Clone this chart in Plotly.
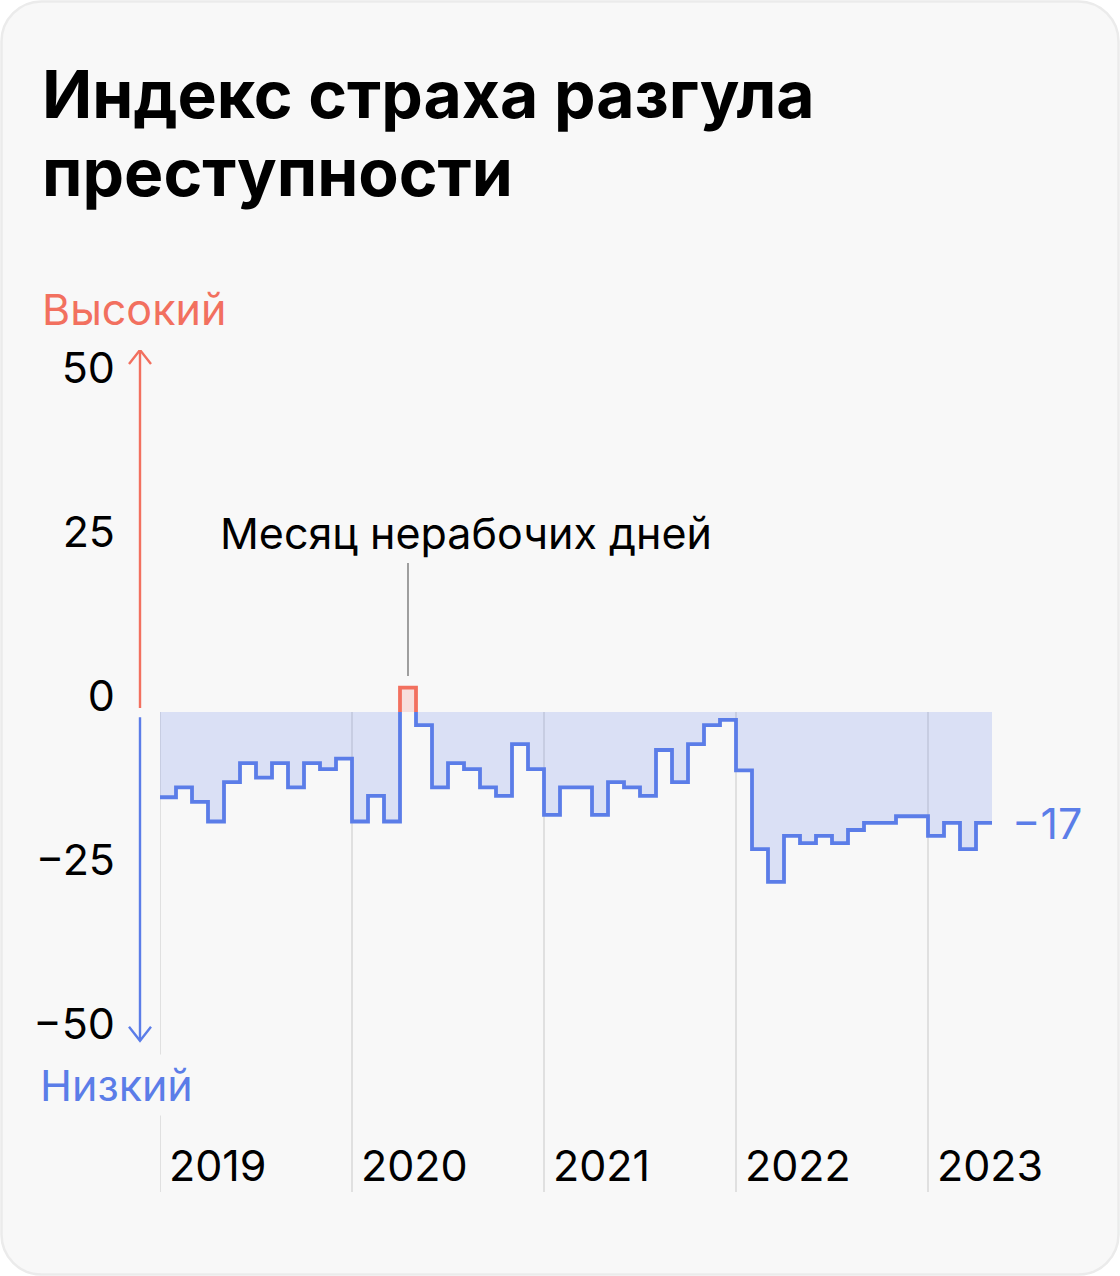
import plotly.graph_objects as go

# ---------------- data ----------------
YEARS = [2019, 2020, 2021, 2022, 2023]
VALUES_2019 = [-13.0, -11.5, -13.7, -16.7, -10.7, -7.8, -10.0, -7.8, -11.5, -7.8, -8.7, -7.1]
VALUES_2020 = [-16.7, -12.8, -16.7, 3.7, -2.0, -11.5, -7.8, -8.7, -11.5, -12.8, -4.9, -8.7]
VALUES_2021 = [-15.7, -11.5, -11.5, -15.7, -10.7, -11.5, -12.8, -5.8, -10.7, -4.9, -2.0, -1.2]
VALUES_2022 = [-8.9, -20.9, -25.9, -18.9, -20.0, -18.9, -20.0, -18.0, -16.9, -16.9, -15.9, -15.9]
VALUES_2023 = [-18.9, -16.9, -20.9, -16.9]
VALUES = VALUES_2019 + VALUES_2020 + VALUES_2021 + VALUES_2022 + VALUES_2023
Y_TICKS = [50, 25, 0, -25, -50]
HIGHLIGHT_TEXT = "Месяц нерабочих дней"
TITLE_LINES = ["Индекс страха разгула", "преступности"]

# ---------------- style ----------------
W, H = 1120, 1276
ML, MR, MT, MB = 160, 128, 350, 84
PW, PH = W - ML - MR, H - MT - MB
Y_MAX, Y_MIN = 55.2, -73.2
BLUE = "#5b7de8"
RED = "#f2705f"
BLUE_FILL = "rgba(91,123,232,0.19)"
RED_FILL = "rgba(242,112,95,0.18)"
CARD = "#f8f8f8"
GRID = "#dadada"
FONT = "Inter"
FS = 43
LW = 3.8


def px_x(px):
    return (px - ML) / PW


def px_y(py):
    return 1 - (py - MT) / PH


n = len(VALUES)

# fill polyline (negative part clipped at zero)
fx, fy = [], []
for i, v in enumerate(VALUES):
    vv = min(v, 0)
    fx += [i, i + 1]
    fy += [vv, vv]

# blue line with gap over positive months
bx, by = [], []
for i, v in enumerate(VALUES):
    if v >= 0:
        continue
    if i > 0 and VALUES[i - 1] >= 0:
        bx.append(i)
        by.append(0)
    bx += [i, i + 1]
    by += [v, v]
    if i + 1 < n and VALUES[i + 1] >= 0:
        bx += [i + 1, None]
        by += [0, None]

fig = go.Figure()
fig.add_trace(go.Scatter(x=fx, y=fy, mode="lines", line=dict(width=0),
                         fill="tozeroy", fillcolor=BLUE_FILL, hoverinfo="skip",
                         showlegend=False))
fig.add_trace(go.Scatter(x=bx, y=by, mode="lines", line=dict(color=BLUE, width=LW),
                         showlegend=False, hoverinfo="skip"))

pos_idx = [i for i, v in enumerate(VALUES) if v > 0]
for p in pos_idx:
    v = VALUES[p]
    fig.add_trace(go.Scatter(x=[p, p, p + 1, p + 1], y=[0, v, v, 0], mode="lines",
                             line=dict(color=RED, width=LW), fill="toself",
                             fillcolor=RED_FILL, showlegend=False, hoverinfo="skip"))

shapes = []
# card background (rounded rectangle in pixel space -> paper)
x0, y0, x1, y1, r = 1.5, 1.5, 1118.5, 1274.5, 40
k = 0.5523 * r


def P(px, py):
    return f"{px_x(px):.6f},{px_y(py):.6f}"


card_path = (
    f"M {P(x0 + r, y0)} L {P(x1 - r, y0)} "
    f"C {P(x1 - r + k, y0)} {P(x1, y0 + r - k)} {P(x1, y0 + r)} "
    f"L {P(x1, y1 - r)} "
    f"C {P(x1, y1 - r + k)} {P(x1 - r + k, y1)} {P(x1 - r, y1)} "
    f"L {P(x0 + r, y1)} "
    f"C {P(x0 + r - k, y1)} {P(x0, y1 - r + k)} {P(x0, y1 - r)} "
    f"L {P(x0, y0 + r)} "
    f"C {P(x0, y0 + r - k)} {P(x0 + r - k, y0)} {P(x0 + r, y0)} Z"
)
shapes.append(dict(type="path", xref="paper", yref="paper", path=card_path,
                   fillcolor=CARD, line=dict(color="#ebebeb", width=2.5), layer="below"))

# year gridlines
for j, yr in enumerate(YEARS):
    shapes.append(dict(type="line", xref="x", yref="y", x0=12 * j, x1=12 * j,
                       y0=0, y1=Y_MIN, line=dict(color=GRID, width=1.6), layer="below"))

# axis arrows
ax_x = px_x(140)
hw = 11 / PW
hh = 14 * (Y_MAX - Y_MIN) / PH
up_top = Y_MAX
dn_bot = -50.15
shapes += [
    dict(type="line", xref="paper", yref="y", x0=ax_x, x1=ax_x, y0=0.6, y1=up_top,
         line=dict(color=RED, width=2.4)),
    dict(type="path", xref="paper", yref="y",
         path=f"M {ax_x - hw},{up_top - hh} L {ax_x},{up_top} L {ax_x + hw},{up_top - hh}",
         line=dict(color=RED, width=2.4)),
    dict(type="line", xref="paper", yref="y", x0=ax_x, x1=ax_x, y0=-0.8, y1=dn_bot,
         line=dict(color=BLUE, width=2.4)),
    dict(type="path", xref="paper", yref="y",
         path=f"M {ax_x - hw},{dn_bot + hh} L {ax_x},{dn_bot} L {ax_x + hw},{dn_bot + hh}",
         line=dict(color=BLUE, width=2.4)),
]

# leader line for highlighted month
hp = pos_idx[0]
shapes.append(dict(type="line", xref="x", yref="y", x0=hp + 0.5, x1=hp + 0.5,
                   y0=VALUES[hp] + 1.8, y1=22.7, line=dict(color="#888888", width=1.6)))

annotations = []
# title
for li, line in enumerate(TITLE_LINES):
    annotations.append(dict(text=f"<b>{line}</b>", xref="paper", yref="paper",
                            x=px_x(40), y=px_y(120 + 78 * li), xanchor="left",
                            yanchor="bottom", yshift=-16, showarrow=False,
                            font=dict(family=FONT, size=66, color="#000000")))
annotations.append(dict(text="Высокий", xref="paper", yref="paper", x=px_x(40),
                        y=px_y(309), xanchor="left", yanchor="middle", showarrow=False,
                        font=dict(family=FONT, size=FS, color=RED)))
annotations.append(dict(text="Низкий", xref="paper", yref="paper", x=px_x(35),
                        y=px_y(1085), xanchor="left", yanchor="middle", showarrow=False,
                        bgcolor=CARD, borderpad=4,
                        font=dict(family=FONT, size=FS, color=BLUE)))
annotations.append(dict(text=HIGHLIGHT_TEXT, xref="x", yref="y", x=hp + 0.5, y=27.3,
                        xanchor="center", yanchor="middle", xshift=58, showarrow=False,
                        font=dict(family=FONT, size=FS, color="#000000")))
last = VALUES[-1]
annotations.append(dict(text=f"−{abs(round(last))}" if last < 0 else f"{round(last)}",
                        xref="x", yref="y", x=n, y=last, xanchor="left", yanchor="middle",
                        xshift=18, showarrow=False,
                        font=dict(family=FONT, size=FS, color=BLUE)))
for j, yr in enumerate(YEARS):
    annotations.append(dict(text=str(yr), xref="x", yref="paper", x=12 * j, y=0,
                            xanchor="left", yanchor="middle", xshift=7, yshift=27,
                            showarrow=False,
                            font=dict(family=FONT, size=FS, color="#000000")))

fig.update_layout(
    width=W, height=H,
    margin=dict(l=ML, r=MR, t=MT, b=MB, pad=0),
    paper_bgcolor="#ffffff", plot_bgcolor="rgba(0,0,0,0)",
    shapes=shapes, annotations=annotations,
    xaxis=dict(range=[0, 52], showgrid=False, zeroline=False, showticklabels=False,
               showline=False, ticks=""),
    yaxis=dict(range=[Y_MIN, Y_MAX], showgrid=False, zeroline=False, showline=False,
               tickvals=Y_TICKS, ticks="",
               ticktext=[("−" if t < 0 else "") + str(abs(t)) for t in Y_TICKS],
               tickfont=dict(family=FONT, size=FS, color="#000000"),
               ticklabelstandoff=44, ticklabelshift=-16),
    font=dict(family=FONT),
    showlegend=False,
)

fig.write_html("out.html", config={"displayModeBar": False},
               post_script="document.body.style.margin='0';document.body.style.overflow='hidden';")
